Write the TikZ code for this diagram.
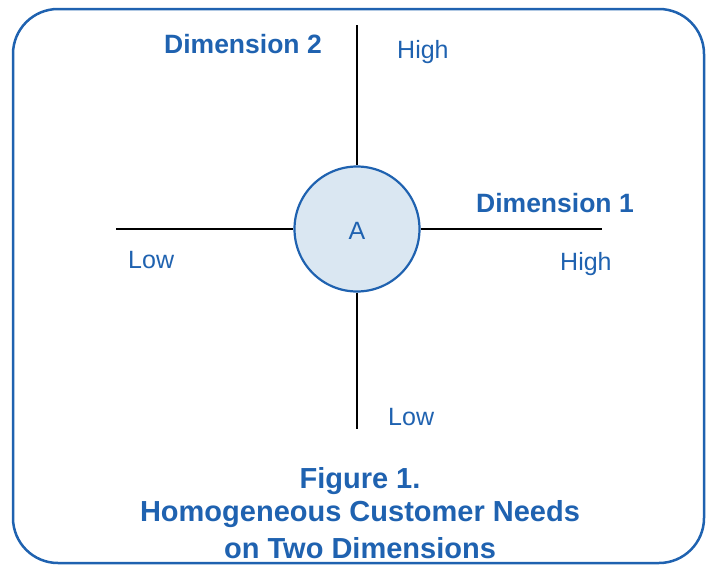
\documentclass[tikz,border=0pt]{standalone}
\usepackage{fontspec}
\setmainfont{Liberation Sans}
\usetikzlibrary{positioning}
\definecolor{dimblue}{RGB}{31,98,176}
\definecolor{dimfill}{RGB}{218,231,242}
\begin{document}
\begin{tikzpicture}[x=1pt, y=-1pt]
		\tikzstyle{frame} = [draw=dimblue, line width=2.5pt, rounded corners=45pt]
		\tikzstyle{axis} = [draw=black, line width=2.2pt]
		\tikzstyle{Circ} = [circle, minimum size=125pt, inner sep=0pt, draw=dimblue, line width=2.2pt, fill=dimfill, text=dimblue, font=\fontsize{25}{30}\selectfont]
		\tikzstyle{Lab} = [inner sep=0pt, anchor=base west, text=dimblue, font=\fontsize{25}{30}\selectfont]
		\tikzstyle{Dim} = [inner sep=0pt, anchor=base west, text=dimblue, font=\fontsize{26.5}{32}\selectfont\bfseries]
		\tikzstyle{Title} = [inner sep=0pt, anchor=base, text=dimblue, font=\fontsize{29}{34}\selectfont\bfseries]
		
		\useasboundingbox (0,0) rectangle (709,565);
		\draw [frame] (13,9) rectangle (704,563);
		
		\coordinate (west) at (116,229);
		\coordinate (east) at (602,229);
		\coordinate (north) at (357,25);
		\coordinate (south) at (357,429);
		\node (A) [Circ] at (357,229) {};
		\draw [axis] (west) -- (A.west);
		\draw [axis] (A.east) -- (east);
		\draw [axis] (north) -- (A.north);
		\draw [axis] (A.south) -- (south);
		\node (a) [text=dimblue, font=\fontsize{25}{30}\selectfont] at (357,231) {A};
		
		\node (dim2) [Dim] at (164,53) {Dimension 2};
		\node (high2) [Lab] at (397,58) {High};
		\node (dim1) [Dim] at (476,212) {Dimension 1};
		\node (high1) [Lab] at (560,270) {High};
		\node (low1) [Lab] at (128,268) {Low};
		\node (low2) [Lab] at (388,425) {Low};
		
		\node (fig) [Title] at (360,488) {Figure 1.};
		\node (cap1) [Title] at (360,521) {Homogeneous Customer Needs};
		\node (cap2) [Title] at (360,558) {on Two Dimensions};
\end{tikzpicture}
\end{document}
